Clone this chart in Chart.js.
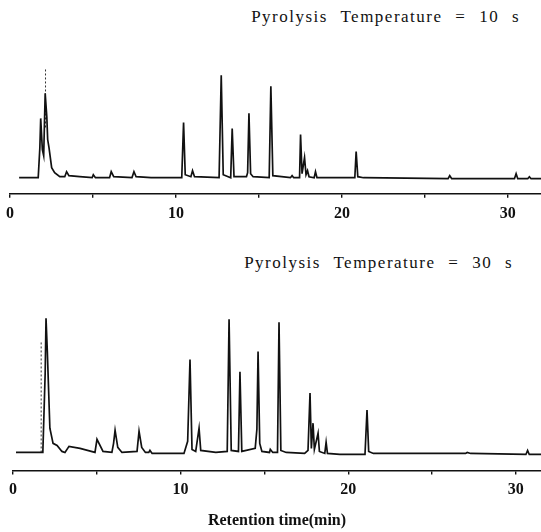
<!DOCTYPE html>
<html>
<head>
<meta charset="utf-8">
<script src="https://cdn.jsdelivr.net/npm/chart.js@4/dist/chart.umd.min.js"></script>
<style>
    body { margin: 0; background: #fff; }
    #wrap { position: relative; width: 541px; height: 532px; overflow: hidden; }
    .panel { position: absolute; left: 0; width: 541px; }
    .title {
        position: absolute; right: 21px;
        font-family: 'Liberation Serif', 'DejaVu Serif', serif;
        font-size: 17px; letter-spacing: 1.5px; word-spacing: 7px;
        color: #111; white-space: nowrap;
    }
</style>
</head>
<body>
<div id="wrap">
    <div class="title" style="top: 7px;">Pyrolysis Temperature = 10 s</div>
    <div class="panel" style="top: 0; height: 229px;"><canvas id="chartTop"></canvas></div>
    <div class="title" style="top: 253px; right: 28px;">Pyrolysis Temperature = 30 s</div>
    <div class="panel" style="top: 250px; height: 282px;"><canvas id="chartBottom"></canvas></div>
</div>
<script>
// Kromatogram 10 s (waktu retensi dalam menit, sinyal relatif)
const topTime = [0.55, 1.70, 1.80, 1.85, 1.95, 2.03, 2.12, 2.22, 2.27, 2.35, 2.51, 2.69, 3.00, 3.30, 3.41, 3.55,
    4.20, 4.95, 5.02, 5.15, 6.00, 6.10, 6.25, 7.35, 7.47, 7.60, 8.50, 10.35, 10.46, 10.56, 10.90, 11.00, 11.12,
    12.60, 12.73, 12.85, 13.30, 13.39, 13.50, 14.25, 14.32, 14.40, 14.50, 14.65, 15.62, 15.72, 15.84, 16.90,
    17.00, 17.10, 17.45, 17.51, 17.60, 17.75, 17.84, 17.93, 18.02, 18.33, 18.41, 18.50, 20.78, 20.86, 20.96,
    21.30, 26.40, 26.50, 26.62, 30.40, 30.50, 30.60, 31.20, 31.30, 31.40, 32.00];
const topSignal = [0, 0, 30, 59, 28, 22, 84, 60, 38, 30, 10, 5, 1, 1, 6, 2,
    1, 0, 3, 0, 0, 6, 1, 0, 6, 1, 0, 0, 55, 3, 1, 7, 1,
    0, 102, 3, 0, 49, 1, 1, 5, 64, 4, 1, 0, 91, 2, 0,
    2, 0, 0, 43, 4, 20, 3, 7, 1, 0, 6, 0, 0, 26, 1,
    0, -1, 2, -1, -1, 4, -1, -1, 1, -1, -1];
// garis putus-putus (pena bergerak cepat) pada puncak pertama
const topDashTime = [2.14, 2.14];
const topDashSignal = [50, 108];

// Kromatogram 30 s
const bottomTime = [0.18, 1.60, 1.78, 1.92, 1.97, 2.05, 2.20, 2.39, 2.63, 2.92, 3.10, 3.34, 4.00, 4.89, 5.01,
    5.37, 5.90, 6.00, 6.09, 6.25, 6.50, 7.40, 7.52, 7.68, 7.90, 8.10, 8.17, 8.30, 10.20, 10.42, 10.56, 10.68,
    10.90, 11.10, 11.20, 12.10, 12.78, 12.89, 13.02, 13.45, 13.54, 13.65, 14.45, 14.55, 14.62, 14.72, 14.85,
    15.30, 15.35, 15.50, 15.78, 15.87, 15.98, 16.30, 17.40, 17.60, 17.72, 17.80, 17.90, 17.98, 18.20, 18.28,
    18.60, 18.68, 18.76, 19.50, 21.00, 21.12, 21.22, 21.50, 27.00, 27.10, 27.30, 30.60, 30.70, 30.80, 31.50];
const bottomSignal = [1, 1, 1, 80, 134, 100, 25, 10, 8, 2, 1, 7, 5, 1, 14,
    2, 1, 10, 23, 6, 1, 2, 22, 6, 1, 1, 3, 0, 0, 12, 93, 4,
    2, 25, 3, 1, 2, 133, 3, 2, 81, 2, 5, 24, 101, 10, 2,
    1, 4, 1, 1, 130, 3, 1, 0, 3, 60, 5, 30, 4, 20, 2,
    0, 11, 0, -1, -1, 43, 2, 0, 0, 1, 0, -1, 3, -1, -1];
const bottomDashTime = [1.68, 1.68];
const bottomDashSignal = [1, 112];

// Label sumbu
const tickLabels = [0, 10, 20, 30];
const xAxisTitle = 'Retention time(min)';

function toPoints(xs, ys) {
    return xs.map((x, i) => ({ x: x, y: ys[i] }));
}

const serif = "'Liberation Serif', 'DejaVu Serif', serif";

function makeConfig(trace, dash, yMin, yMax, xMin, xMax, showTitle, padding) {
    return {
        type: 'line',
        data: {
            datasets: [
                {
                    data: trace,
                    borderColor: '#111',
                    borderWidth: 1.7,
                    pointRadius: 0,
                    tension: 0
                },
                {
                    data: dash,
                    borderColor: '#333',
                    borderWidth: 1,
                    borderDash: [2, 2],
                    pointRadius: 0
                }
            ]
        },
        options: {
            responsive: true,
            maintainAspectRatio: false,
            animation: false,
            layout: { padding: padding },
            plugins: {
                legend: { display: false },
                tooltip: { enabled: false }
            },
            scales: {
                x: {
                    type: 'linear',
                    min: xMin,
                    max: xMax,
                    border: { color: '#111', width: 1.6 },
                    grid: {
                        drawOnChartArea: false,
                        color: '#111',
                        lineWidth: 1.4,
                        tickLength: 4
                    },
                    ticks: {
                        stepSize: 5,
                        includeBounds: false,
                        maxRotation: 0,
                        autoSkip: false,
                        padding: 6,
                        color: '#111',
                        font: { family: serif, size: 16, weight: 'bold' },
                        callback: function (value) {
                            return tickLabels.includes(value) ? String(value) : '';
                        }
                    },
                    title: {
                        display: showTitle,
                        text: xAxisTitle,
                        color: '#111',
                        padding: { top: 5, bottom: 0 },
                        font: { family: serif, size: 16, weight: 'bold' }
                    }
                },
                y: {
                    display: false,
                    min: yMin,
                    max: yMax
                }
            }
        }
    };
}

const topChart = new Chart(
    document.getElementById('chartTop'),
    makeConfig(toPoints(topTime, topSignal), toPoints(topDashTime, topDashSignal),
        -16, 137, 0, 32, false, { top: 40, left: 5, right: 0, bottom: 0 })
);

const bottomChart = new Chart(
    document.getElementById('chartBottom'),
    makeConfig(toPoints(bottomTime, bottomSignal), toPoints(bottomDashTime, bottomDashSignal),
        -17, 162, 0, 31.5, true, { top: 40, left: 13, right: 0, bottom: 2 })
);
</script>
</body>
</html>
